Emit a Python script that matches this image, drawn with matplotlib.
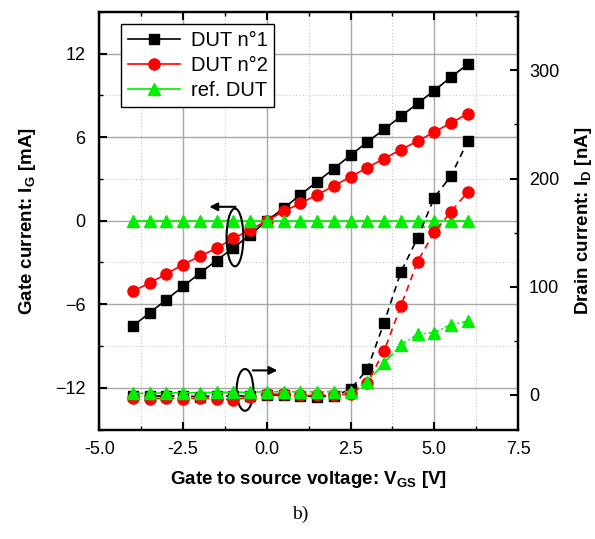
import matplotlib
matplotlib.use('Agg')
import matplotlib.pyplot as plt
from matplotlib.patches import Ellipse
from matplotlib.ticker import MultipleLocator, FormatStrFormatter

plt.rcParams['font.family'] = ['Liberation Sans', 'DejaVu Sans']
plt.rcParams['mathtext.fontset'] = 'custom'
plt.rcParams['mathtext.rm'] = 'Liberation Sans'
plt.rcParams['mathtext.bf'] = 'Liberation Sans:bold'

# gate to source voltage [V]
vgs = [-4.0, -3.5, -3.0, -2.5, -2.0, -1.5, -1.0, -0.5, 0.0, 0.5, 1.0,
       1.5, 2.0, 2.5, 3.0, 3.5, 4.0, 4.5, 5.0, 5.5, 6.0]

# gate current [mA]
ig_dut1 = [-7.56, -6.63, -5.67, -4.72, -3.77, -2.86, -1.95, -1.02, 0.0, 0.88, 1.86,
           2.79, 3.74, 4.70, 5.65, 6.56, 7.49, 8.42, 9.35, 10.32, 11.23]
ig_dut2 = [-5.06, -4.48, -3.82, -3.15, -2.55, -1.98, -1.27, -0.67, 0.0, 0.67, 1.24,
           1.86, 2.50, 3.15, 3.81, 4.46, 5.10, 5.72, 6.37, 7.03, 7.68]
ig_ref = [0.0] * 21

# drain current [nA]
id_dut1 = [-1.0, -1.0, -1.0, -1.0, -1.5, -1.0, -1.0, -1.0, 0.0, -0.5, -1.0,
           -1.5, -1.0, 5.2, 23.6, 66.5, 113.4, 145.0, 182.4, 202.4, 234.6]
id_dut2 = [-3.0, -3.5, -3.0, -3.5, -3.0, -3.5, -4.5, -2.0, 1.0, 0.5, -0.5,
           -0.5, 0.0, 1.0, 11.3, 40.5, 81.9, 123.3, 150.4, 169.3, 187.7]
id_ref = [1.5, 1.5, 2.0, 2.0, 2.0, 2.5, 2.5, 2.5, 3.0, 3.0, 3.0,
          3.0, 3.0, 3.0, 12.0, 29.7, 46.0, 56.1, 57.7, 65.0, 68.1]

fig = plt.figure(figsize=(5.95, 5.39), dpi=100)
ax = fig.add_axes([0.1669, 0.203, 0.7037, 0.775])
ax2 = ax.twinx()

# gate current, solid lines
l1, = ax.plot(vgs, ig_dut1, '-', color='black', marker='s', ms=7, lw=1.2, label='DUT n°1')
l2, = ax.plot(vgs, ig_dut2, '-', color='red', marker='o', ms=8, lw=1.2, label='DUT n°2')
l3, = ax.plot(vgs, ig_ref, '-', color='#00ee00', marker='^', ms=8.5, lw=1.2, label='ref. DUT')

# drain current, dashed lines
ax2.plot(vgs, id_dut1, '--', color='black', marker='s', ms=7, lw=1.2, dashes=(4, 3))
ax2.plot(vgs, id_dut2, '--', color='red', marker='o', ms=8, lw=1.2, dashes=(4, 3))
ax2.plot(vgs, id_ref, '-.', color='#00ee00', marker='^', ms=8.5, lw=1.2)

ax.set_xlim(-5, 7.5)
ax.set_ylim(-15, 15)
ax2.set_ylim(-32, 354)

ax.xaxis.set_major_locator(MultipleLocator(2.5))
ax.xaxis.set_minor_locator(MultipleLocator(1.25))
ax.yaxis.set_major_locator(MultipleLocator(6))
ax.yaxis.set_minor_locator(MultipleLocator(3))
ax2.yaxis.set_major_locator(MultipleLocator(100))
ax2.yaxis.set_minor_locator(MultipleLocator(50))
ax.xaxis.set_major_formatter(FormatStrFormatter('%.1f'))

ax.grid(which='major', color='#a8a8a8', lw=1.0, ls='-')
ax.grid(which='minor', color='#c8c8c8', lw=0.8, ls=(0, (1, 2)))
ax.set_axisbelow(True)

ax.tick_params(which='both', direction='in', top=True, right=False, labelsize=13)
ax.tick_params(which='major', length=6, width=1.5)
ax.tick_params(which='minor', length=3, width=1)
ax2.tick_params(which='both', direction='in', labelsize=13)
ax2.tick_params(which='major', length=6, width=1.5)
ax2.tick_params(which='minor', length=3, width=1)
ax.tick_params(axis='x', pad=8)
ax.tick_params(axis='y', pad=10)
ax2.tick_params(axis='y', pad=8)
for sp in list(ax.spines.values()) + list(ax2.spines.values()):
    sp.set_linewidth(1.6)

ax.set_xlabel(r'Gate to source voltage: V$_\mathbf{GS}$ [V]', fontsize=13.5,
              fontweight='bold', labelpad=8)
ax.set_ylabel(r'Gate current: I$_\mathbf{G}$ [mA]', fontsize=13.5,
              fontweight='bold', labelpad=12)
ax2.set_ylabel(r'Drain current: I$_\mathbf{D}$ [nA]', fontsize=13.5,
               fontweight='bold', labelpad=10)

# annotation ellipses and arrows
ax.add_patch(Ellipse((-0.95, -1.2), 0.5, 4.15, fill=False, ec='black', lw=1.5, zorder=5))
ax.annotate('', xy=(-1.8, 1.0), xytext=(-0.85, 1.0),
            arrowprops=dict(arrowstyle='-|>', color='black', lw=1.5, mutation_scale=12),
            zorder=5)
ax.add_patch(Ellipse((-0.65, -12.15), 0.5, 3.0, fill=False, ec='black', lw=1.5, zorder=5))
ax.annotate('', xy=(0.4, -10.75), xytext=(-0.5, -10.75),
            arrowprops=dict(arrowstyle='-|>', color='black', lw=1.5, mutation_scale=12),
            zorder=5)

leg = ax2.legend(handles=[l1, l2, l3], loc='upper left', bbox_to_anchor=(0.052, 0.971),
                 borderaxespad=0, fontsize=14.5, fancybox=False, edgecolor='black',
                 framealpha=1, handlelength=2.6, labelspacing=0.3, borderpad=0.35,
                 handletextpad=0.5)
leg.get_frame().set_linewidth(1.0)

fig.text(0.505, 0.045, 'b)', fontsize=14, family='Liberation Serif', ha='center', va='center')

fig.savefig('out.png', dpi=100)
